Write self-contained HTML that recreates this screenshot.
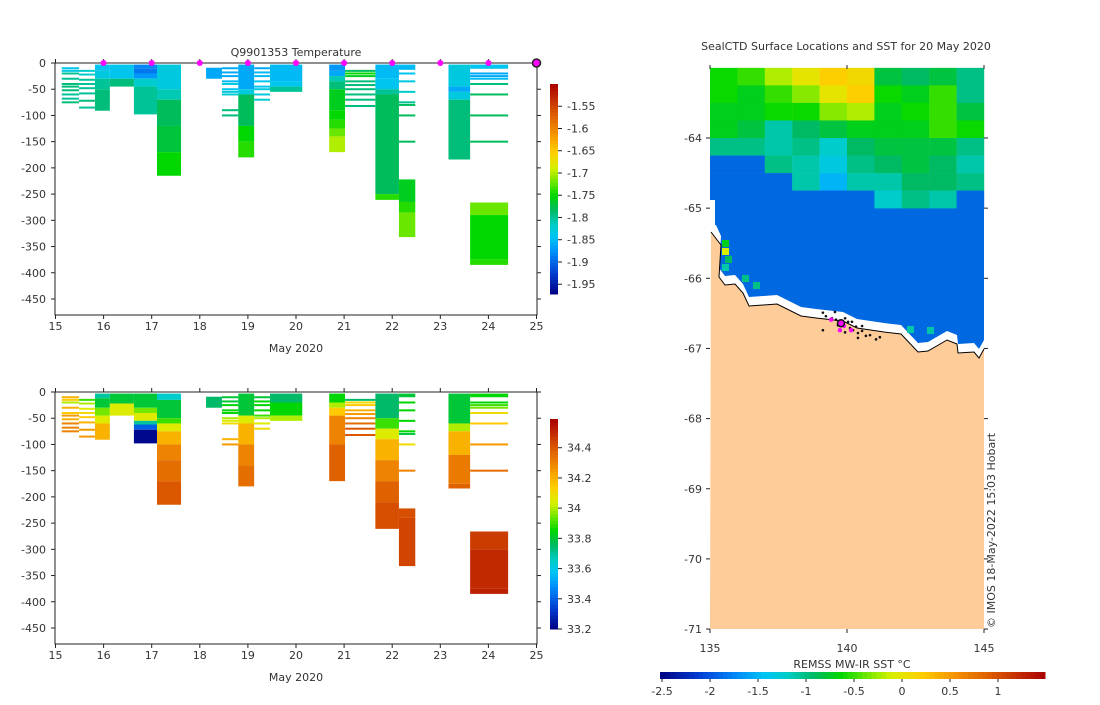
<!DOCTYPE html>
<html><head><meta charset="utf-8"><style>
body{margin:0;background:#fff;}
svg{font-family:"DejaVu Sans","Liberation Sans",sans-serif;}
text{fill:#333;font-size:11px;}
</style></head><body>
<svg id="svg" width="1100" height="700" viewBox="0 0 1100 700" xmlns="http://www.w3.org/2000/svg">
<g id="top"></g>
<g id="bot"></g>
<g id="map"></g>
</svg>
<script>
// ---- profile data (days, depths m, values) ----
const blockStart=[15.82,16.13,16.63,17.11,18.13,18.80,19.46,20.69,21.65,22.14,23.17,23.62];
const blockEnd  =[16.13,16.63,17.11,17.61,18.46,19.13,20.13,21.02,22.14,22.48,23.62,24.41];
const tempSegs=[
 [[3,15,-1.84],[15,30,-1.83],[30,50,-1.8],[50,91,-1.79]],
 [[3,30,-1.84],[30,45,-1.79]],
 [[3,10,-1.88],[10,20,-1.89],[20,30,-1.87],[30,45,-1.82],[45,98,-1.8]],
 [[3,50,-1.83],[50,70,-1.81],[70,120,-1.78],[120,170,-1.77],[170,215,-1.75]],
 [[9,30,-1.86]],
 [[3,50,-1.86],[50,60,-1.83],[60,120,-1.78],[120,150,-1.75],[150,180,-1.74]],
 [[3,35,-1.85],[35,45,-1.84],[45,55,-1.8]],
 [[3,15,-1.87],[15,25,-1.86],[25,35,-1.81],[35,50,-1.79],[50,90,-1.76],[90,108,-1.75],[108,125,-1.74],[125,140,-1.72],[140,170,-1.7]],
 [[3,30,-1.85],[30,50,-1.84],[50,60,-1.8],[60,250,-1.78],[250,261,-1.74]],
 [[3,13,-1.85],[222,265,-1.76],[265,285,-1.74],[285,332,-1.72]],
 [[3,45,-1.83],[45,55,-1.86],[55,70,-1.83],[70,184,-1.79]],
 [[3,11,-1.84],[266,290,-1.72],[290,375,-1.75],[375,385,-1.74]]
];
const salSegs=[
 [[3,12,33.7],[12,30,33.8],[30,45,33.95],[45,60,34.05],[60,91,34.2]],
 [[3,22,33.8],[22,45,34.05]],
 [[3,30,33.8],[30,40,33.95],[40,55,34.05],[55,62,33.7],[62,72,33.4],[72,98,33.22]],
 [[3,15,33.65],[15,50,33.8],[50,60,33.9],[60,75,34.05],[75,100,34.2],[100,130,34.3],[130,170,34.35],[170,215,34.4]],
 [[9,30,33.75]],
 [[3,45,33.8],[45,60,34.05],[60,100,34.2],[100,140,34.3],[140,180,34.35]],
 [[3,20,33.75],[20,45,33.85],[45,55,34.0]],
 [[3,20,33.85],[20,30,34.0],[30,45,34.15],[45,100,34.3],[100,170,34.38]],
 [[3,50,33.75],[50,70,33.9],[70,90,34.05],[90,130,34.2],[130,170,34.3],[170,210,34.38],[210,261,34.42]],
 [[3,10,33.8],[222,240,34.42],[240,332,34.44]],
 [[3,60,33.8],[60,75,34.0],[75,120,34.2],[120,175,34.32],[175,184,34.38]],
 [[3,10,33.85],[266,300,34.46],[300,375,34.5],[375,385,34.52]]
];
const lineStart=[15.13,15.49,18.46,19.13,21.02,22.14,23.62];
const lineEnd  =[15.49,15.82,18.80,19.46,21.65,22.48,24.41];
const lineDepths=[[10,15,20,30,40,45,52,60,68,75],[15,22,32,40,48,58,72,85],[10,18,25,35,40,50,55,60,90,100],[10,18,25,35,45,50,60,70],[15,20,25,35,42,50,60,70,82],[20,35,55,75,80,100,150],[20,25,30,40,60,100,150]];
const lineTemps=[[-1.84,-1.83,-1.8,-1.8,-1.79,-1.79,-1.79,-1.8,-1.8,-1.79],[-1.82,-1.82,-1.8,-1.8,-1.8,-1.8,-1.79,-1.8],[-1.86,-1.86,-1.86,-1.85,-1.83,-1.84,-1.83,-1.82,-1.79,-1.79],[-1.86,-1.85,-1.85,-1.84,-1.84,-1.83,-1.83,-1.82],[-1.78,-1.75,-1.76,-1.79,-1.79,-1.79,-1.79,-1.79,-1.79],[-1.84,-1.83,-1.82,-1.8,-1.78,-1.78,-1.78],[-1.86,-1.86,-1.85,-1.79,-1.78,-1.78,-1.78]];
const lineSals=[[34.2,34.15,34.0,34.2,34.15,34.25,34.2,34.3,34.3,34.3],[33.9,34.0,34.05,34.1,34.15,34.2,34.25,34.25],[33.8,33.8,33.85,33.85,33.85,34.0,34.05,34.1,34.2,34.25],[33.8,33.85,33.85,33.85,33.9,34.0,34.05,34.1],[33.75,34.1,34.15,34.2,34.25,34.3,34.35,34.4,34.4],[33.85,33.85,33.85,33.85,33.8,34.1,34.3],[33.85,33.9,33.95,34.1,34.15,34.25,34.35]];
const markerDays=[16,17,18,19,20,21,22,23,24];
const xTicks=[15,16,17,18,19,20,21,22,23,24,25];
const yTicks=[0,50,100,150,200,250,300,350,400,450];
const tempTicks=[-1.55,-1.6,-1.65,-1.7,-1.75,-1.8,-1.85,-1.9,-1.95];
const salTicks=[34.4,34.2,34,33.8,33.6,33.4,33.2];
// ---- map data ----
const sstGrid=[
 [-0.6,-0.5,-0.2,0,0.2,0.1,-0.8,-0.9,-0.8,-1.0],
 [-0.6,-0.7,-0.5,-0.3,0,0.2,-0.6,-0.7,-0.5,-1.0],
 [-0.7,-0.7,-0.6,-0.6,-0.3,-0.2,-0.7,-0.6,-0.5,-0.8],
 [-0.7,-0.8,-1.1,-0.9,-0.8,-0.7,-0.7,-0.7,-0.5,-0.6],
 [-1.0,-1.0,-1.1,-1.0,-1.2,-0.9,-0.8,-0.8,-0.8,-1.0],
 [-1.8,-1.8,-1.0,-1.1,-1.3,-1.0,-0.9,-0.8,-0.9,-1.1],
 [-1.8,-1.8,-1.8,-1.1,-1.5,-1.1,-1.1,-0.9,-0.9,-1.0],
 [-1.8,-1.8,-1.8,-1.8,-1.8,-1.8,-1.2,-1.0,-1.1,-1.8]
];
const dotLon=[139.12,139.23,139.45,139.60,139.67,139.93,140.04,140.11,140.22,140.33,140.40,140.55,140.69,140.84,141.06,141.20,139.12,140.40,139.56,139.93,139.74,140.55,140.18];
const dotLat=[-66.49,-66.54,-66.57,-66.59,-66.67,-66.57,-66.62,-66.71,-66.74,-66.69,-66.78,-66.75,-66.82,-66.81,-66.87,-66.84,-66.74,-66.85,-66.48,-66.77,-66.74,-66.68,-66.62];
const magLon=[139.42,139.78,139.74,140.15,139.89];
const magLat=[-66.59,-66.64,-66.74,-66.74,-66.68];
const lonTicks=[135,140,145];
const latTicks=[-64,-65,-66,-67,-68,-69,-70,-71];
const sstTicks=[-2.5,-2,-1.5,-1,-0.5,0,0.5,1];

const NS='http://www.w3.org/2000/svg';
function mk(p,tag,a,txt){const e=document.createElementNS(NS,tag);for(const k in a)e.setAttribute(k,a[k]);if(txt!==undefined)e.textContent=txt;p.appendChild(e);return e;}
const stops=[[0,0,0,130],[0.1,0,60,210],[0.2,0,140,250],[0.27,0,195,245],[0.33,0,205,200],[0.4,0,185,100],[0.47,0,215,0],[0.53,100,230,0],[0.6,215,240,0],[0.68,255,205,0],[0.76,245,150,0],[0.86,220,90,0],[1,170,0,0]];
function cmap(t){t=Math.max(0,Math.min(1,t));for(let i=1;i<stops.length;i++){if(t<=stops[i][0]){const a=stops[i-1],b=stops[i],f=(t-a[0])/(b[0]-a[0]);return 'rgb('+[1,2,3].map(j=>Math.round(a[j]+f*(b[j]-a[j]))).join(',')+')';}}return 'rgb(170,0,0)';}

function panel(g,y0,segs,lvals,vmin,vmax,cbTop,ticks,tfmt,withMarkers){
 const X=d=>55.5+(d-15)*48.1, Y=z=>y0+z*0.5244, T=v=>(v-vmin)/(vmax-vmin);
 const bottom=y0+252;
 blockStart.forEach((s,i)=>{segs[i].forEach(sg=>{const r=mk(g,'rect',{x:X(s),y:Y(sg[0]),width:X(blockEnd[i])-X(s),height:Y(sg[1])-Y(sg[0]),fill:cmap(T(sg[2]))});
  
  });});
 lineStart.forEach((s,i)=>{lineDepths[i].forEach((z,j)=>{const r=mk(g,'rect',{x:X(s),y:Y(z)-1,width:X(lineEnd[i])-X(s),height:2,fill:cmap(T(lvals[i][j]))});
  
  });});
 mk(g,'rect',{x:55,y:y0,width:482,height:bottom-y0,fill:'none',stroke:'#222','stroke-width':1,});
 xTicks.forEach(d=>{mk(g,'line',{x1:X(d),x2:X(d),y1:bottom,y2:bottom+4,stroke:'#222'});mk(g,'line',{x1:X(d),x2:X(d),y1:y0,y2:y0-4,stroke:'#222'});
  const t=mk(g,'text',{x:X(d),y:bottom+15,'text-anchor':'middle'},String(d));});
 yTicks.forEach(z=>{mk(g,'line',{x1:51,x2:55,y1:Y(z),y2:Y(z),stroke:'#222'});mk(g,'line',{x1:537,x2:541,y1:Y(z),y2:Y(z),stroke:'#222'});
  const t=mk(g,'text',{x:46,y:Y(z)+4,'text-anchor':'end'},z?('-'+z):'0');});
 mk(g,'text',{x:296,y:bottom+37,'text-anchor':'middle',},'May 2020');
 const cbH=210;
 for(let k=0;k<60;k++){mk(g,'rect',{x:550,y:cbTop+cbH-(k+1)*cbH/60,width:8,height:cbH/60+0.5,fill:cmap((k+0.5)/60)});}
 ticks.forEach(v=>{const yy=cbTop+cbH*(1-T(v));mk(g,'line',{x1:558,x2:562,y1:yy,y2:yy,stroke:'#222'});
  const t=mk(g,'text',{x:567,y:yy+4},tfmt(v));});
 if(withMarkers){markerDays.forEach(d=>{const c=mk(g,'circle',{cx:X(d),cy:y0,r:3,fill:'#ff00ff'});});
  mk(g,'circle',{cx:X(25),cy:y0,r:4,fill:'#ff00ff',stroke:'#222','stroke-width':1.5,});
  mk(g,'text',{x:296,y:56,'text-anchor':'middle',},'Q9901353  Temperature');}
}
panel(document.getElementById('top'),63,tempSegs,lineTemps,-1.972,-1.5,84,tempTicks,v=>String(v),true);
panel(document.getElementById('bot'),392,salSegs,lineSals,33.2,34.59,419,salTicks,v=>String(+v.toFixed(1)),false);

// ---- map ----
(function(){
 const g=document.getElementById('map');
 const LX=l=>710+(l-135)*27.4, LY=a=>138+(-64-a)*70.15, S=v=>(v+2.5)/3.99;
 const OCEAN='#0068e0';
 const sc=v=>v<=-1.7?OCEAN:cmap(S(v));
 mk(g,'text',{x:846,y:50,'text-anchor':'middle',},'SealCTD Surface Locations and SST for 20 May 2020');
 mk(g,'rect',{x:710,y:69,width:274,height:560,fill:'#fff'});
 mk(g,'rect',{x:710,y:LY(-64.75),width:274,height:LY(-67)-LY(-64.75),fill:OCEAN,});
 sstGrid.forEach((row,r)=>row.forEach((v,c)=>{const lat=-63-r*0.25;const e=mk(g,'rect',{x:LX(135+c),y:LY(lat),width:27.6,height:17.8,fill:sc(v)});
  
  }));
 const coast=[[711,232],[721,245],[719,277],[725,285],[735,284],[743,293],[749,306],[777,304],[801,316],[816,318],[843,321],[857,328],[884,332],[901,334],[918,352],[928,351],[947,340],[957,344],[958,353],[974,352],[979,358],[984,349]];
 const strip=coast.map(p=>[p[0],p[1]-9]);strip[0]=[716,225];
 mk(g,'polygon',{points:strip.map(p=>p.join(',')).join(' ')+' 984,360 710,360 710,225',fill:'#fff'});
 mk(g,'rect',{x:710,y:200,width:5,height:32,fill:'#fff'});
 [[725,240,-0.7],[725,248,-0.1],[728,256,-0.9],[725,264,-1.1],[745,275,-1.0],[756,282,-1.0],[910,326,-1.1],[930,327,-1.1]].forEach(p=>{const e=mk(g,'rect',{x:p[0]-3,y:p[1],width:7,height:7,fill:sc(p[2])});});
 mk(g,'polygon',{points:'710,629 '+coast.map(p=>p.join(',')).join(' ')+' 984,629',fill:'#fdcc99',});
 mk(g,'polyline',{points:coast.map(p=>p.join(',')).join(' '),fill:'none',stroke:'#000','stroke-width':1,});
 dotLon.forEach((l,i)=>{const c=mk(g,'circle',{cx:LX(l),cy:LY(dotLat[i]),r:1.3,fill:'#111'});});
 magLon.forEach((l,i)=>{const c=mk(g,'circle',{cx:LX(l),cy:LY(magLat[i]),r:2.2,fill:'#ff00ff'});});
 mk(g,'circle',{cx:LX(139.78),cy:LY(-66.64),r:3.5,fill:'#ff00ff',stroke:'#111','stroke-width':1.5,});
 latTicks.forEach(a=>{mk(g,'line',{x1:706,x2:710,y1:LY(a),y2:LY(a),stroke:'#222'});mk(g,'line',{x1:984,x2:988,y1:LY(a),y2:LY(a),stroke:'#222'});
  const t=mk(g,'text',{x:702,y:LY(a)+4,'text-anchor':'end'},String(a));});
 lonTicks.forEach(l=>{mk(g,'line',{x1:LX(l),x2:LX(l),y1:629,y2:633,stroke:'#222'});mk(g,'line',{x1:LX(l),x2:LX(l),y1:65,y2:69,stroke:'#222'});
  const t=mk(g,'text',{x:LX(l),y:652,'text-anchor':'middle'},String(l));});
 mk(g,'text',{x:0,y:0,transform:'translate(995,628) rotate(-90)','font-size':'10',},'© IMOS 18-May-2022 15:03 Hobart');
 const SX=v=>662+(v+2.5)*96;
 for(let k=0;k<80;k++){mk(g,'rect',{x:660+k*385/80,y:672,width:385/80+0.5,height:7,fill:cmap((k+0.5)/80)});}
 sstTicks.forEach(v=>{mk(g,'line',{x1:SX(v),x2:SX(v),y1:679,y2:682,stroke:'#222'});
  const t=mk(g,'text',{x:SX(v),y:695,'text-anchor':'middle'},String(v));});
 mk(g,'text',{x:852,y:668,'text-anchor':'middle',},'REMSS MW-IR SST °C');
})();
</script>
</body></html>
